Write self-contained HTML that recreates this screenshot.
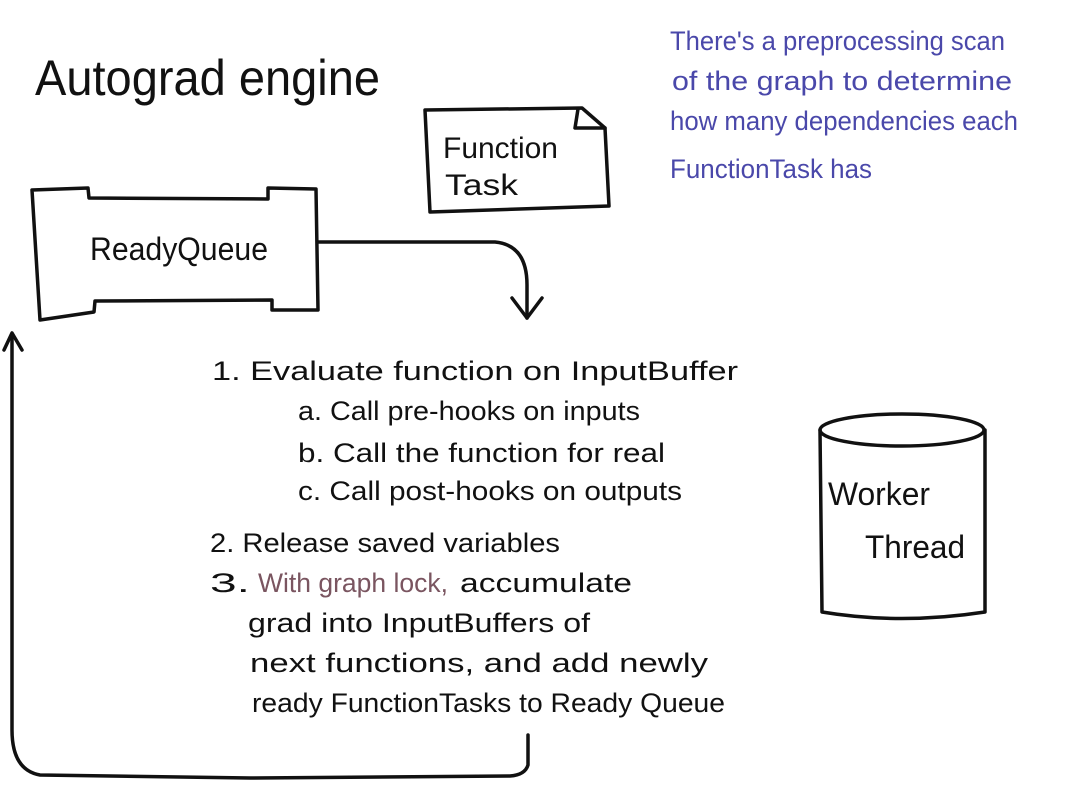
<!DOCTYPE html>
<html><head><meta charset="utf-8"><style>
html,body{margin:0;padding:0;background:#fff;}
svg{display:block;}
text{font-family:"Liberation Sans",sans-serif;fill:#111;}
.p{fill:#4a48aa;font-size:27px;}
.m{font-size:27px;}
</style></head><body>
<svg width="1080" height="810" viewBox="0 0 1080 810" xmlns="http://www.w3.org/2000/svg">
<g fill="none" stroke="#111" stroke-width="3.5" stroke-linecap="round" stroke-linejoin="round">
<path d="M32,190 L88,188 L89,198 L268,199 L268,188 L316,189 L318,310 L272,310 L272,300 L95,301 L94,312 L40,320 Z"/>
<path d="M318,242 L495,242 Q527,245 527,285 L527,318"/>
<path d="M512,298 L527,318 L542,298"/>
<path d="M425,110 L582,108 L605,128 L609,206 L430,212 Z"/>
<path d="M578,109 L575,128 L605,128"/>
<path d="M528,735 L528,765 Q525,775 510,776 L250,778 L40,775 Q12,770 12,730 L12,335"/>
<path d="M4,350 L12,333 L22,350"/>
<path d="M820,430 L822,612 Q900,625 985,612 L985,430"/>
<ellipse cx="902" cy="430" rx="82" ry="16"/>
</g>
<text x="35" y="95" font-size="50" textLength="345" lengthAdjust="spacingAndGlyphs">Autograd engine</text>
<text x="443" y="158" font-size="30" textLength="115" lengthAdjust="spacingAndGlyphs">Function</text>
<text x="445" y="195" font-size="30" textLength="73" lengthAdjust="spacingAndGlyphs">Task</text>
<text x="90" y="260" font-size="32" textLength="178" lengthAdjust="spacingAndGlyphs">ReadyQueue</text>
<text x="828" y="505" font-size="32" textLength="102" lengthAdjust="spacingAndGlyphs">Worker</text>
<text x="865" y="558" font-size="32" textLength="100" lengthAdjust="spacingAndGlyphs">Thread</text>
<text class="p" x="670" y="50" textLength="335" lengthAdjust="spacingAndGlyphs">There's a preprocessing scan</text>
<text class="p" x="672" y="90" textLength="340" lengthAdjust="spacingAndGlyphs">of the graph to determine</text>
<text class="p" x="670" y="130" textLength="348" lengthAdjust="spacingAndGlyphs">how many dependencies each</text>
<text class="p" x="670" y="178" textLength="202" lengthAdjust="spacingAndGlyphs">FunctionTask has</text>
<text class="m" x="212" y="380" textLength="526" lengthAdjust="spacingAndGlyphs">1. Evaluate function on InputBuffer</text>
<text class="m" x="298" y="420" textLength="342" lengthAdjust="spacingAndGlyphs">a. Call pre-hooks on inputs</text>
<text class="m" x="298" y="462" textLength="367" lengthAdjust="spacingAndGlyphs">b. Call the function for real</text>
<text class="m" x="298" y="500" textLength="384" lengthAdjust="spacingAndGlyphs">c. Call post-hooks on outputs</text>
<text class="m" x="210" y="552" textLength="350" lengthAdjust="spacingAndGlyphs">2. Release saved variables</text>
<text class="m" x="210" y="592" textLength="40" lengthAdjust="spacingAndGlyphs">3.</text>
<text class="m" x="258" y="592" textLength="190" lengthAdjust="spacingAndGlyphs" fill="#7a5560" style="fill:#7a5560">With graph lock,</text>
<text class="m" x="460" y="592" textLength="172" lengthAdjust="spacingAndGlyphs">accumulate</text>
<text class="m" x="248" y="632" textLength="342" lengthAdjust="spacingAndGlyphs">grad into InputBuffers of</text>
<text class="m" x="250" y="672" textLength="458" lengthAdjust="spacingAndGlyphs">next functions, and add newly</text>
<text class="m" x="252" y="712" textLength="473" lengthAdjust="spacingAndGlyphs">ready FunctionTasks to Ready Queue</text>
</svg>
</body></html>
